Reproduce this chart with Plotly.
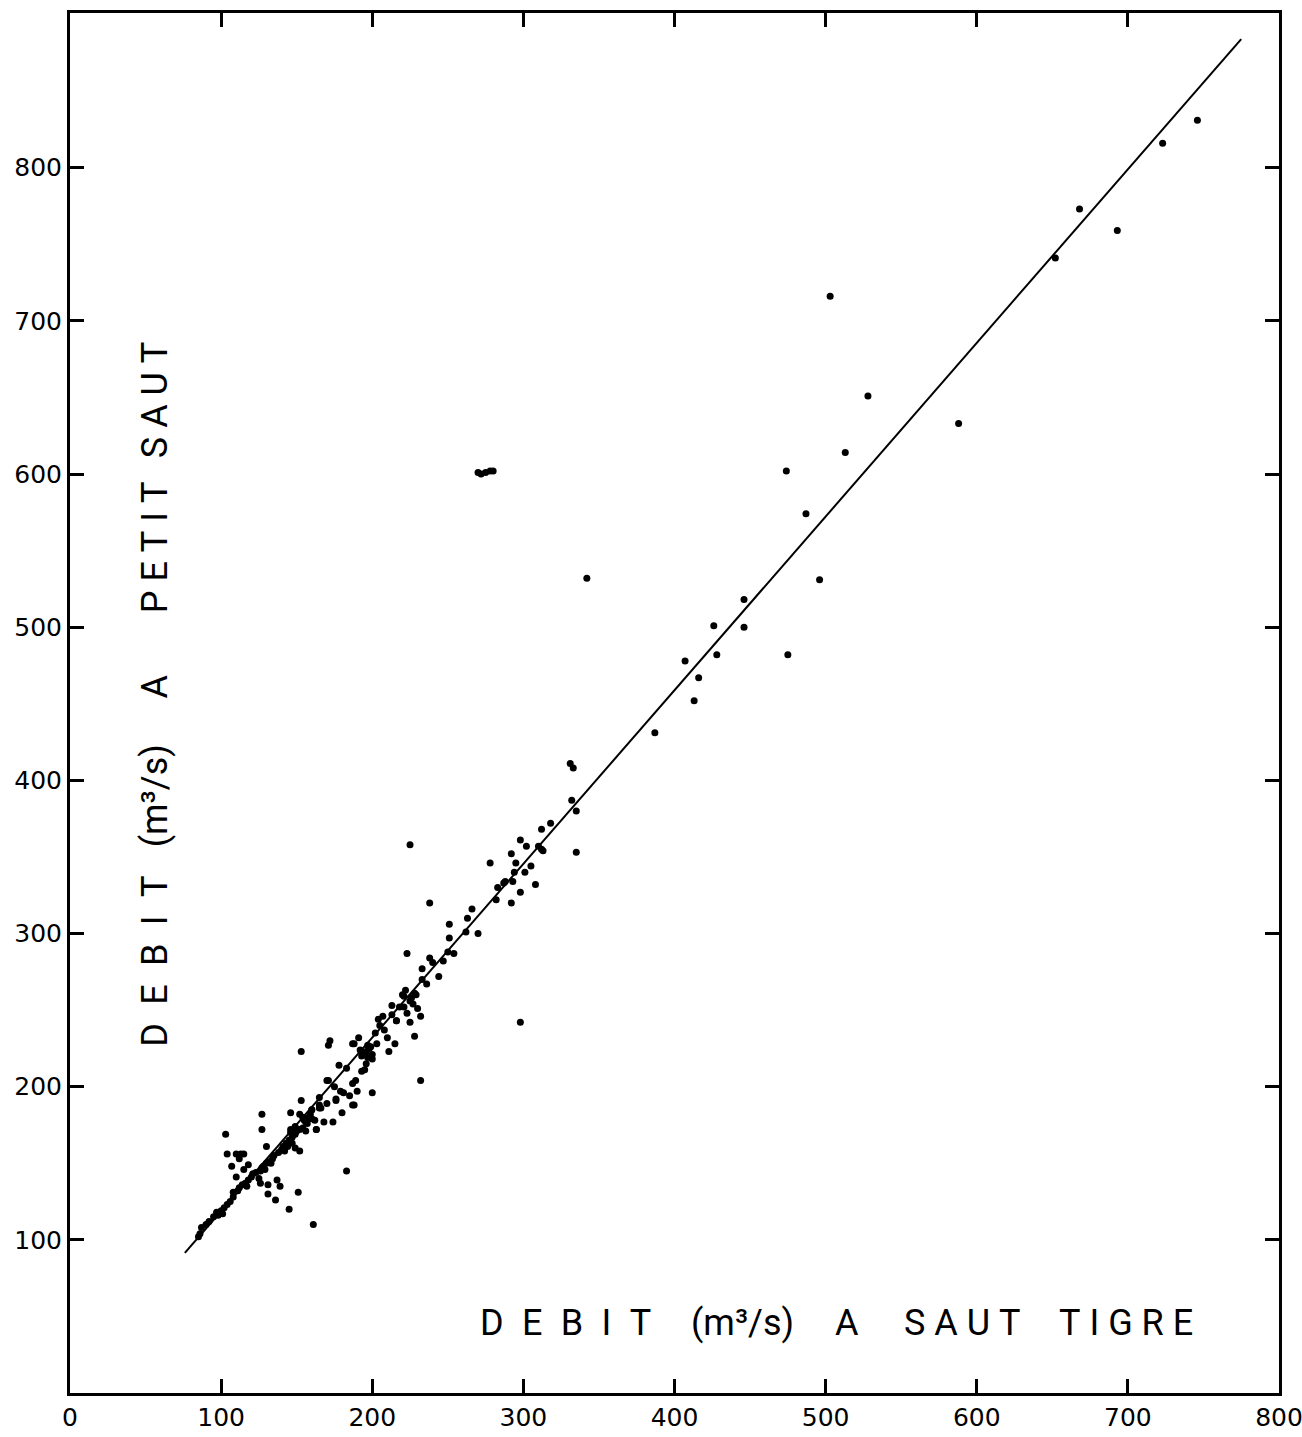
import plotly.graph_objects as go

# Debit at Saut Tigre (x, m3/s) vs Debit at Petit Saut (y, m3/s)
saut_tigre = [
    86, 87, 90, 92, 95, 97, 100, 102, 104, 106, 108, 108, 111, 112, 114, 116, 118, 120, 121, 123,
    126, 127, 128, 130, 132, 134, 135, 138, 140, 141, 143, 145, 147, 149, 150, 152, 154,
    103, 104, 110, 113, 112, 107, 118, 115, 110, 121, 126, 131, 137, 139, 131, 136, 145, 151, 161,
    152, 149, 127, 127, 130, 115, 163, 85, 98, 101, 125, 129, 133, 117, 142,
    144, 147, 146, 149, 146, 146, 154, 155, 152, 156, 158, 160, 156, 162, 163, 168, 174, 160, 165,
    165, 153, 170, 176, 171, 175, 179, 181, 188, 183, 178, 183, 172, 171, 153, 157, 159, 166, 180,
    187, 189, 187, 195, 200, 194, 192, 196, 198, 193, 197, 200, 203, 188, 191, 202, 208, 204, 207,
    216, 211, 215, 200, 176, 187, 170, 165, 160, 185, 190, 196, 199, 197, 193, 205, 210,
    213, 218, 220, 222, 225, 228, 223, 225, 232, 228, 232, 216, 221, 226, 229, 227, 213, 221,
    223, 233, 233, 238, 240, 247, 250, 254, 251, 251, 262, 263, 266, 270, 238, 225, 230, 236, 244,
    278, 282, 287, 292, 293, 292, 294, 295, 298, 298, 301, 302, 308, 310, 312, 312, 313, 318,
    331, 333, 332, 335, 335, 288, 298, 342, 283, 305,
    270, 272, 275, 278, 280,
    387, 407, 413, 416, 426, 428, 446, 446, 474, 475, 487, 496, 503, 513, 528, 588, 652, 668, 693,
    723, 746,
]
petit_saut = [
    104, 108, 110, 112, 115, 118, 119, 121, 123, 125, 128, 131, 132, 134, 136, 137, 139, 141, 143, 144,
    145, 147, 148, 150, 151, 153, 155, 157, 159, 161, 163, 165, 167, 169, 171, 172, 173,
    169, 156, 156, 156, 153, 148, 149, 146, 141, 143, 137, 136, 139, 135, 130, 126, 120, 131, 110,
    158, 160, 172, 182, 161, 156, 172, 102, 116, 117, 140, 146, 150, 135, 158,
    161, 163, 170, 174, 172, 183, 180, 178, 182, 177, 180, 179, 171, 178, 172, 177, 177, 185, 188,
    193, 191, 189, 191, 204, 200, 197, 196, 188, 145, 214, 212, 230, 227, 223, 176, 182, 186, 183,
    228, 204, 202, 211, 218, 222, 224, 223, 225, 220, 227, 221, 228, 228, 232, 235, 237, 244, 246,
    243, 223, 228, 196, 192, 188, 204, 186, 185, 194, 197, 215, 226, 219, 210, 240, 232,
    253, 252, 260, 263, 256, 261, 248, 242, 246, 233, 204, 243, 259, 258, 260, 254, 247, 252,
    287, 277, 270, 284, 281, 282, 288, 287, 297, 306, 301, 310, 316, 300, 320, 358, 251, 267, 272,
    346, 322, 333, 320, 334, 352, 340, 346, 327, 361, 340, 357, 332, 357, 368, 355, 354, 372,
    411, 408, 387, 380, 353, 334, 242, 532, 330, 344,
    601, 600, 601, 602, 602,
    431, 478, 452, 467, 501, 482, 518, 500, 602, 482, 574, 531, 716, 614, 651, 633, 741, 773, 759,
    816, 831,
]

# Regression line end points
fit_x = [76, 775]
fit_y = [91.5, 884]

x_ticks = [0, 100, 200, 300, 400, 500, 600, 700, 800]
y_ticks = [100, 200, 300, 400, 500, 600, 700, 800]

NB = "\u00a0"
EN = "\u2002"

fig = go.Figure()
fig.add_trace(go.Scatter(
    x=fit_x, y=fit_y, mode="lines",
    line=dict(color="black", width=2), hoverinfo="skip", showlegend=False,
))
fig.add_trace(go.Scatter(
    x=saut_tigre, y=petit_saut, mode="markers",
    marker=dict(color="black", size=7, line=dict(width=0)), showlegend=False,
))

tick_font = dict(family="DejaVu Sans", size=25, color="black")
axis_common = dict(
    showline=True, linewidth=3, linecolor="black", mirror="ticks",
    ticks="inside", ticklen=14, tickwidth=3, tickcolor="black",
    showgrid=False, zeroline=False, tickfont=tick_font,
    ticklabeloverflow="allow", automargin=False,
)
fig.update_xaxes(range=[0, 800], tickvals=x_ticks, ticktext=[str(v) for v in x_ticks],
                 **axis_common)
fig.update_yaxes(range=[0, 901], tickvals=y_ticks, ticktext=[str(v) for v in y_ticks],
                 **axis_common)

title_font = dict(family="Roboto", size=36, color="black")

# x-axis title, word by word (placed inside the plot area, bottom right)
x_words = [
    (EN.join("DEBIT"), 328),
    ("(m³/s)", 445),
    ("A", 514),
    (NB.join("SAUT"), 590),
    (NB.join("TIGRE"), 699),
]
for txt, xc in x_words:
    fig.add_annotation(x=xc, y=46, xref="x", yref="y", text=txt, showarrow=False,
                       font=title_font, xanchor="center", yanchor="middle")

# y-axis title, word by word (vertical, inside the plot area)
y_words = [
    (EN.join("DEBIT"), 282),
    ("(m³/s)", 390),
    ("A", 461),
    (NB.join("PETIT"), 552),
    (NB.join("SAUT"), 648),
]
for txt, yc in y_words:
    fig.add_annotation(x=56, y=yc, xref="x", yref="y", text=txt, showarrow=False,
                       font=title_font, textangle=-90, xanchor="center", yanchor="middle")

fig.update_layout(
    width=1302, height=1437,
    margin=dict(l=70, r=23, t=13, b=44),
    paper_bgcolor="white", plot_bgcolor="white",
    showlegend=False,
)

fig.write_html("out.html", config={"displayModeBar": False},
               post_script="document.body.style.margin='0';")
